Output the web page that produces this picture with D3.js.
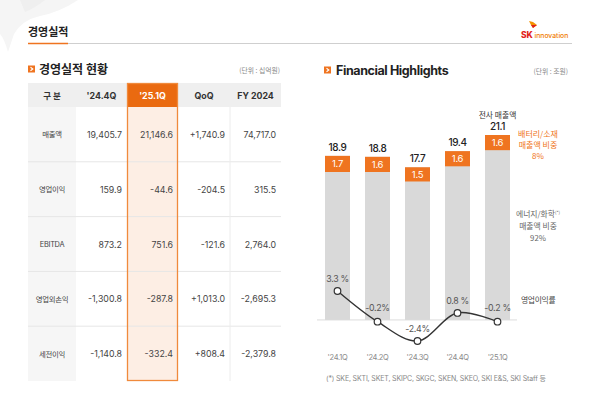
<!DOCTYPE html>
<html><head><meta charset="utf-8">
<script src="https://cdn.jsdelivr.net/npm/d3@7"></script>
<style>
html,body{margin:0;padding:0;background:#fff;}
svg{display:block;font-family:Inter,"Noto Sans CJK KR",sans-serif;}
</style></head>
<body><svg id="c" width="600" height="397"></svg>
<script>
// ---------- table data ----------
const tableHeaders = ["구 분", "'24.4Q", "'25.1Q", "QoQ", "FY 2024"];
const rowLabels = ["매출액", "영업이익", "EBITDA", "영업외손익", "세전이익"];
const q24_4 = [19405.7, 159.9, 873.2, -1300.8, -1140.8];
const q25_1 = [21146.6, -44.6, 751.6, -287.8, -332.4];
const qoq = [1740.9, -204.5, -121.6, 1013.0, 808.4];
const fy2024 = [74717.0, 315.5, 2764.0, -2695.3, -2379.8];

// ---------- chart data ----------
const quarters = ["'24.1Q", "'24.2Q", "'24.3Q", "'24.4Q", "'25.1Q"];
const totalSales = [18.9, 18.8, 17.7, 19.4, 21.1];
const batterySales = [1.7, 1.6, 1.5, 1.6, 1.6];
const opMargin = [3.3, -0.2, -2.4, 0.8, -0.2];
const marginLabels = ["3.3 %", "-0.2%", "-2.4%", "0.8 %", "-0.2 %"];

const svg = d3.select("#c");
const ORANGE = "#ef7420";
const loc = d3.formatLocale({decimal: ".", thousands: ",", grouping: [3], currency: ["", ""], minus: "-"});
const fmt = loc.format(",.1f");
const fmtS = loc.format("+,.1f");

// decorative background shape
svg.append("path")
  .attr("d", "M0,0 L78,0 Q60,12 40,16 Q22,20 14,34 L8,52 Q4,38 0,34 Z")
  .attr("fill", "#f5f5f5");
svg.append("path")
  .attr("d", "M20,0 L45,0 Q35,8 25,12 Z").attr("fill", "#efefef");

// page title
svg.append("text").attr("x", 28).attr("y", 36).text("경영실적")
  .attr("font-size", 11).attr("font-weight", 700).attr("fill", "#222")
  .attr("font-family", "'Noto Sans CJK KR'");
svg.append("line").attr("x1", 28).attr("x2", 572).attr("y1", 43.5).attr("y2", 43.5)
  .attr("stroke", "#cfcfcf").attr("stroke-width", 1);
svg.append("line").attr("x1", 28).attr("x2", 68).attr("y1", 43.5).attr("y2", 43.5)
  .attr("stroke", ORANGE).attr("stroke-width", 1.5);

// logo
const logo = svg.append("g");
logo.append("path").attr("d", "M529,21 L533,22 L537,25 L533,28 L531,25 Z").attr("fill", "#f39200");
logo.append("path").attr("d", "M531,25 L537,25 L533,28 Z").attr("fill", "#e2231a");
logo.append("text").attr("x", 521).attr("y", 38).text("SK")
  .attr("font-size", 8.5).attr("font-weight", 800).attr("fill", "#e2231a");
logo.append("text").attr("x", 534.5).attr("y", 38).text("innovation")
  .attr("font-size", 6.8).attr("fill", "#f07b00").attr("font-weight", 500);

// section headers
function sectionIcon(x, y) {
  svg.append("rect").attr("x", x).attr("y", y).attr("width", 7).attr("height", 7).attr("fill", ORANGE);
  svg.append("path").attr("d", `M${x+2.5},${y+1.8} L${x+4.8},${y+3.5} L${x+2.5},${y+5.2}`)
    .attr("fill", "none").attr("stroke", "#fff").attr("stroke-width", 1.1);
}
sectionIcon(28, 65.5);
svg.append("text").attr("x", 39).attr("y", 73.5).text("경영실적 현황")
  .attr("font-size", 12).attr("font-weight", 700).attr("fill", "#222")
  .attr("font-family", "'Noto Sans CJK KR'");
svg.append("text").attr("x", 280).attr("y", 73).attr("text-anchor", "end").text("(단위 : 십억원)")
  .attr("font-size", 6.8).attr("fill", "#888").attr("font-family", "'Noto Sans CJK KR'");

sectionIcon(324, 66.5);
svg.append("text").attr("x", 336).attr("y", 74.5).text("Financial Highlights")
  .attr("font-size", 12.5).attr("font-weight", 700).attr("fill", "#222").attr("letter-spacing", -0.4);
svg.append("text").attr("x", 568).attr("y", 73.5).attr("text-anchor", "end").text("(단위 : 조원)")
  .attr("font-size", 6.8).attr("fill", "#888").attr("font-family", "'Noto Sans CJK KR'");

// ---------- table ----------
const colEdges = [28, 76, 127, 178, 230, 281];
const headerTop = 83, headerBottom = 107;
const rowY = d3.scaleBand().domain(rowLabels).range([headerBottom, 381]);
const tbl = svg.append("g");
tbl.append("rect").attr("x", colEdges[0]).attr("y", headerBottom).attr("width", colEdges[1]-colEdges[0])
  .attr("height", 381-headerBottom).attr("fill", "#f6f6f6");
tbl.append("rect").attr("x", colEdges[0]).attr("y", headerTop).attr("width", colEdges[5]-colEdges[0])
  .attr("height", headerBottom-headerTop).attr("fill", "#efefef");
tbl.append("rect").attr("x", colEdges[2]).attr("y", headerBottom).attr("width", colEdges[3]-colEdges[2])
  .attr("height", 381-headerBottom).attr("fill", "#fdeee4");
tbl.append("rect").attr("x", colEdges[2]).attr("y", headerTop).attr("width", colEdges[3]-colEdges[2])
  .attr("height", headerBottom-headerTop).attr("fill", "#ea6a10");
rowLabels.forEach((r, i) => {
  if (i === 0) return;
  tbl.append("line").attr("x1", colEdges[0]).attr("x2", colEdges[5])
    .attr("y1", rowY(r)).attr("y2", rowY(r)).attr("stroke", "#e6e6e6").attr("stroke-width", 1);
});
tbl.append("line").attr("x1", colEdges[4]).attr("x2", colEdges[4]).attr("y1", headerBottom).attr("y2", 381)
  .attr("stroke", "#ececec");
tbl.append("rect").attr("x", colEdges[2]+0.5).attr("y", headerTop+0.5).attr("width", colEdges[3]-colEdges[2]-1)
  .attr("height", 381-headerTop-1).attr("fill", "none").attr("stroke", "#f08a3c").attr("stroke-width", 1.3);

tableHeaders.forEach((h, i) => {
  tbl.append("text").attr("x", (colEdges[i]+colEdges[i+1])/2).attr("y", 98.5)
    .attr("text-anchor", "middle").text(h)
    .attr("font-size", i === 0 ? 8.5 : 8.8).attr("font-weight", 700)
    .attr("fill", i === 2 ? "#fff" : "#333")
    .attr("font-family", i === 0 ? "'Noto Sans CJK KR'" : "Inter,'Noto Sans CJK KR'");
});
const cols = [q24_4.map(fmt), q25_1.map(fmt), qoq.map(fmtS), fy2024.map(fmt)];
rowLabels.forEach((r, i) => {
  const cy = rowY(r) + rowY.bandwidth()/2 + 3;
  tbl.append("text").attr("x", 52).attr("y", cy).attr("text-anchor", "middle").text(r)
    .attr("font-size", 7.4).attr("fill", "#444")
    .attr("font-family", r === "EBITDA" ? "Inter" : "'Noto Sans CJK KR'")
    .attr("letter-spacing", -0.3);
  cols.forEach((c, j) => {
    tbl.append("text").attr("x", colEdges[j+2] - 5).attr("y", cy + 0.5).attr("text-anchor", "end")
      .text(c[i]).attr("font-size", 8.8).attr("fill", "#444");
  });
});

// ---------- chart ----------
const ch = svg.append("g");
const x = d3.scaleBand().domain(quarters).range([317.5, 517.5]).paddingInner(0.375).paddingOuter(0.1875);
const y = d3.scaleLinear().domain([1.6, 21.1]).range([320, 135]);
const ym = d3.scaleLinear().domain([-2.4, 3.3]).range([341, 291]);

ch.selectAll("rect.tot").data(quarters).join("rect").attr("class", "tot")
  .attr("x", d => x(d)).attr("width", x.bandwidth())
  .attr("y", (d, i) => y(totalSales[i])).attr("height", (d, i) => y(y.domain()[0]) - y(totalSales[i]))
  .attr("fill", "#d9d9d9");
ch.selectAll("rect.bat").data(quarters).join("rect").attr("class", "bat")
  .attr("x", d => x(d)).attr("width", x.bandwidth())
  .attr("y", (d, i) => y(totalSales[i]))
  .attr("height", (d, i) => y(totalSales[i] - batterySales[i]) - y(totalSales[i]))
  .attr("fill", ORANGE);
ch.selectAll("text.bat").data(quarters).join("text").attr("class", "bat")
  .attr("x", d => x(d) + x.bandwidth()/2)
  .attr("y", (d, i) => (y(totalSales[i]) + y(totalSales[i] - batterySales[i]))/2 + 3.5)
  .attr("text-anchor", "middle").text((d, i) => batterySales[i].toFixed(1))
  .attr("font-size", 9.5).attr("fill", "#fff").attr("letter-spacing", -0.3);
ch.selectAll("text.tot").data(quarters).join("text").attr("class", "tot")
  .attr("x", d => x(d) + x.bandwidth()/2)
  .attr("y", (d, i) => y(totalSales[i]) - 5)
  .attr("text-anchor", "middle").text((d, i) => totalSales[i].toFixed(1))
  .attr("font-size", 10).attr("font-weight", 500).attr("fill", "#222").attr("letter-spacing", -0.4);

ch.append("line").attr("x1", 317).attr("x2", 517).attr("y1", ym(0)).attr("y2", ym(0))
  .attr("stroke", "#dcdcdc").attr("stroke-width", 1);

const pts = quarters.map((q, i) => [x(q) + x.bandwidth()/2, ym(opMargin[i])]);
ch.append("path").attr("d", d3.line().curve(d3.curveCatmullRom.alpha(0.5))(pts))
  .attr("fill", "none").attr("stroke", "#333").attr("stroke-width", 1.4);
ch.selectAll("circle.m").data(pts).join("circle").attr("class", "m")
  .attr("cx", d => d[0]).attr("cy", d => d[1]).attr("r", 3.3)
  .attr("fill", "#fff").attr("stroke", "#333").attr("stroke-width", 1.2);
ch.selectAll("text.m").data(pts).join("text").attr("class", "m")
  .attr("x", d => d[0]).attr("y", (d, i) => d[1] - (i === 1 || i === 4 ? 11 : 9))
  .attr("text-anchor", "middle").text((d, i) => marginLabels[i])
  .attr("font-size", 8.8).attr("fill", "#555").attr("letter-spacing", -0.3);

ch.selectAll("text.xl").data(quarters).join("text").attr("class", "xl")
  .attr("x", d => x(d) + x.bandwidth()/2).attr("y", 360)
  .attr("text-anchor", "middle").text(d => d)
  .attr("font-size", 7.5).attr("fill", "#8a8a8a").attr("letter-spacing", -0.3);

const k = "'Noto Sans CJK KR'";
ch.append("text").attr("x", x(quarters[4]) + x.bandwidth()/2).attr("y", 118).attr("text-anchor", "middle")
  .text("전사 매출액").attr("font-size", 7.8).attr("fill", "#333").attr("font-family", k);
[["배터리/소재", 136.5], ["매출액 비중", 147.5], ["8%", 158.5]].forEach(([t, yy]) => {
  ch.append("text").attr("x", 538).attr("y", yy).attr("text-anchor", "middle").text(t)
    .attr("font-size", 8).attr("fill", ORANGE).attr("font-family", k);
});
const e1 = ch.append("text").attr("x", 538).attr("y", 216.5).attr("text-anchor", "middle")
  .attr("font-size", 7.8).attr("fill", "#666").attr("font-family", k);
e1.append("tspan").text("에너지/화학");
e1.append("tspan").text("(*)").attr("font-size", 4.5).attr("dy", -3);
[["매출액 비중", 228.5], ["92%", 240.5]].forEach(([t, yy]) => {
  ch.append("text").attr("x", 538).attr("y", yy).attr("text-anchor", "middle").text(t)
    .attr("font-size", 7.8).attr("fill", "#666").attr("font-family", k);
});
ch.append("text").attr("x", 521).attr("y", 302.5).text("영업이익률")
  .attr("font-size", 7.8).attr("fill", "#444").attr("font-family", k).attr("letter-spacing", -0.3);

svg.append("text").attr("x", 326).attr("y", 380.5)
  .text("(*) SKE, SKTI, SKET, SKIPC, SKGC, SKEN, SKEO, SKI E&S, SKI Staff 등")
  .attr("font-size", 7).attr("fill", "#888").attr("letter-spacing", -0.15);
</script>
</body></html>
